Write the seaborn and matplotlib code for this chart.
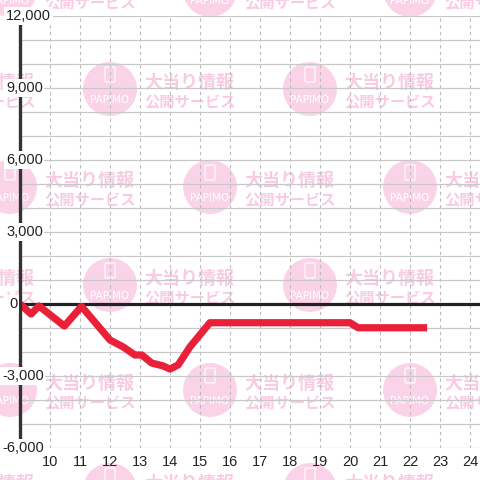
import seaborn as sns
import numpy as np
import matplotlib
matplotlib.use('Agg')
import matplotlib.pyplot as plt
import matplotlib.transforms as mtransforms
from matplotlib.patches import Circle, FancyBboxPatch

# 時刻 (時) と差枚
hours = [9.0, 9.37, 9.63, 10.48, 11.05, 12.0, 12.44, 12.83, 13.06, 13.39,
         13.77, 14.0, 14.27, 14.67, 15.33, 20.0, 20.27, 22.57]
diff = [0, -420, -80, -920, -100, -1500, -1790, -2125, -2125, -2460,
        -2580, -2710, -2540, -1780, -780, -780, -990, -990]

x_ticks = list(range(10, 25))
y_label_vals = [-6000, -3000, 0, 3000, 6000, 9000, 12000]
y_labels = ['-6,000', '-3,000', '0', '3,000', '6,000', '9,000', '12,000']

sns.set_style('white')
plt.rcParams['font.family'] = ['Liberation Sans', 'Noto Sans CJK JP', 'DejaVu Sans']

fig = plt.figure(figsize=(4.8, 4.8), dpi=100, facecolor='white')
ax = fig.add_axes([20 / 480, 32 / 480, 460 / 480, 432 / 480])
ax.set_facecolor('none')


def px(x, y):
    return x / 480, 1 - y / 480


# 透かし
pink = '#fbd3e9'
rows = [(-10, [10, 210, 410]), (89, [-90, 110, 310]), (187, [10, 210, 410]),
        (285, [-90, 110, 310]), (390, [10, 210, 410]), (490, [-90, 110, 310])]
for cy, xs in rows:
    for cx in xs:
        fig.add_artist(Circle(px(cx, cy), 27 / 480, transform=fig.transFigure,
                              color=pink, zorder=-5, lw=0))
        x0, y0 = px(cx - 4, cy - 8)
        fig.add_artist(FancyBboxPatch((x0, y0), 8 / 480, 13 / 480,
                                      boxstyle='round,pad=0.002', transform=fig.transFigure,
                                      fc='none', ec='white', lw=0.8, zorder=-4))
        fig.text(*px(cx, cy + 11), 'PAPIMO', color='white', fontsize=7.5,
                 ha='center', va='center', family='DejaVu Sans', zorder=-4)
        fig.text(*px(cx + 34, cy - 7), '大当り情報', color='#f8cbe2', fontsize=13,
                 weight='bold', ha='left', va='center', family='Noto Sans CJK JP', zorder=-4)
        fig.text(*px(cx + 34, cy + 13), '公開サービス', color='#f8cbe2', fontsize=11,
                 weight='bold', ha='left', va='center', family='Noto Sans CJK JP', zorder=-4)

sns.lineplot(x=hours, y=diff, ax=ax, color='#ea1f38', lw=5.2, zorder=4,
             solid_joinstyle='round', solid_capstyle='butt')
ax.axhline(0, color='#222222', lw=2.3, zorder=3)

ax.set_xlim(9, 9 + 460 / 30)
ax.set_ylim(-6000, 12000)
ax.set_xticks(x_ticks)
ax.set_xticklabels([str(t) for t in x_ticks])
ax.set_yticks(range(-6000, 12001, 1000))
ax.set_yticklabels([])
ax.tick_params(axis='x', length=0, pad=5, labelsize=10.5, labelcolor='#222222')
ax.tick_params(axis='y', length=0)
ax.grid(axis='y', color='#c8c8c8', lw=0.9)
ax.grid(axis='x', color='#bbbbbb', lw=0.8, ls=(0, (3, 3)))
ax.set_axisbelow(True)

for s in ['top', 'right', 'bottom']:
    ax.spines[s].set_visible(False)
ax.spines['left'].set_color('#333333')
ax.spines['left'].set_linewidth(2.4)
ax.spines['left'].set_zorder(5)

trans = mtransforms.blended_transform_factory(fig.transFigure, ax.transData)
for v, lab in zip(y_label_vals, y_labels):
    if v < 0:
        lx = 2
    elif v == 0:
        lx = 9
    else:
        lx = 6
    ax.text(lx / 480, v, lab, transform=trans, ha='left', va='center',
            fontsize=10.5, color='#222222', clip_on=False, zorder=10,
            bbox=dict(fc='white', ec='none', pad=1.2))

ax.set_xlabel('')
ax.set_ylabel('')
fig.savefig('out.png', dpi=100, facecolor='white')
